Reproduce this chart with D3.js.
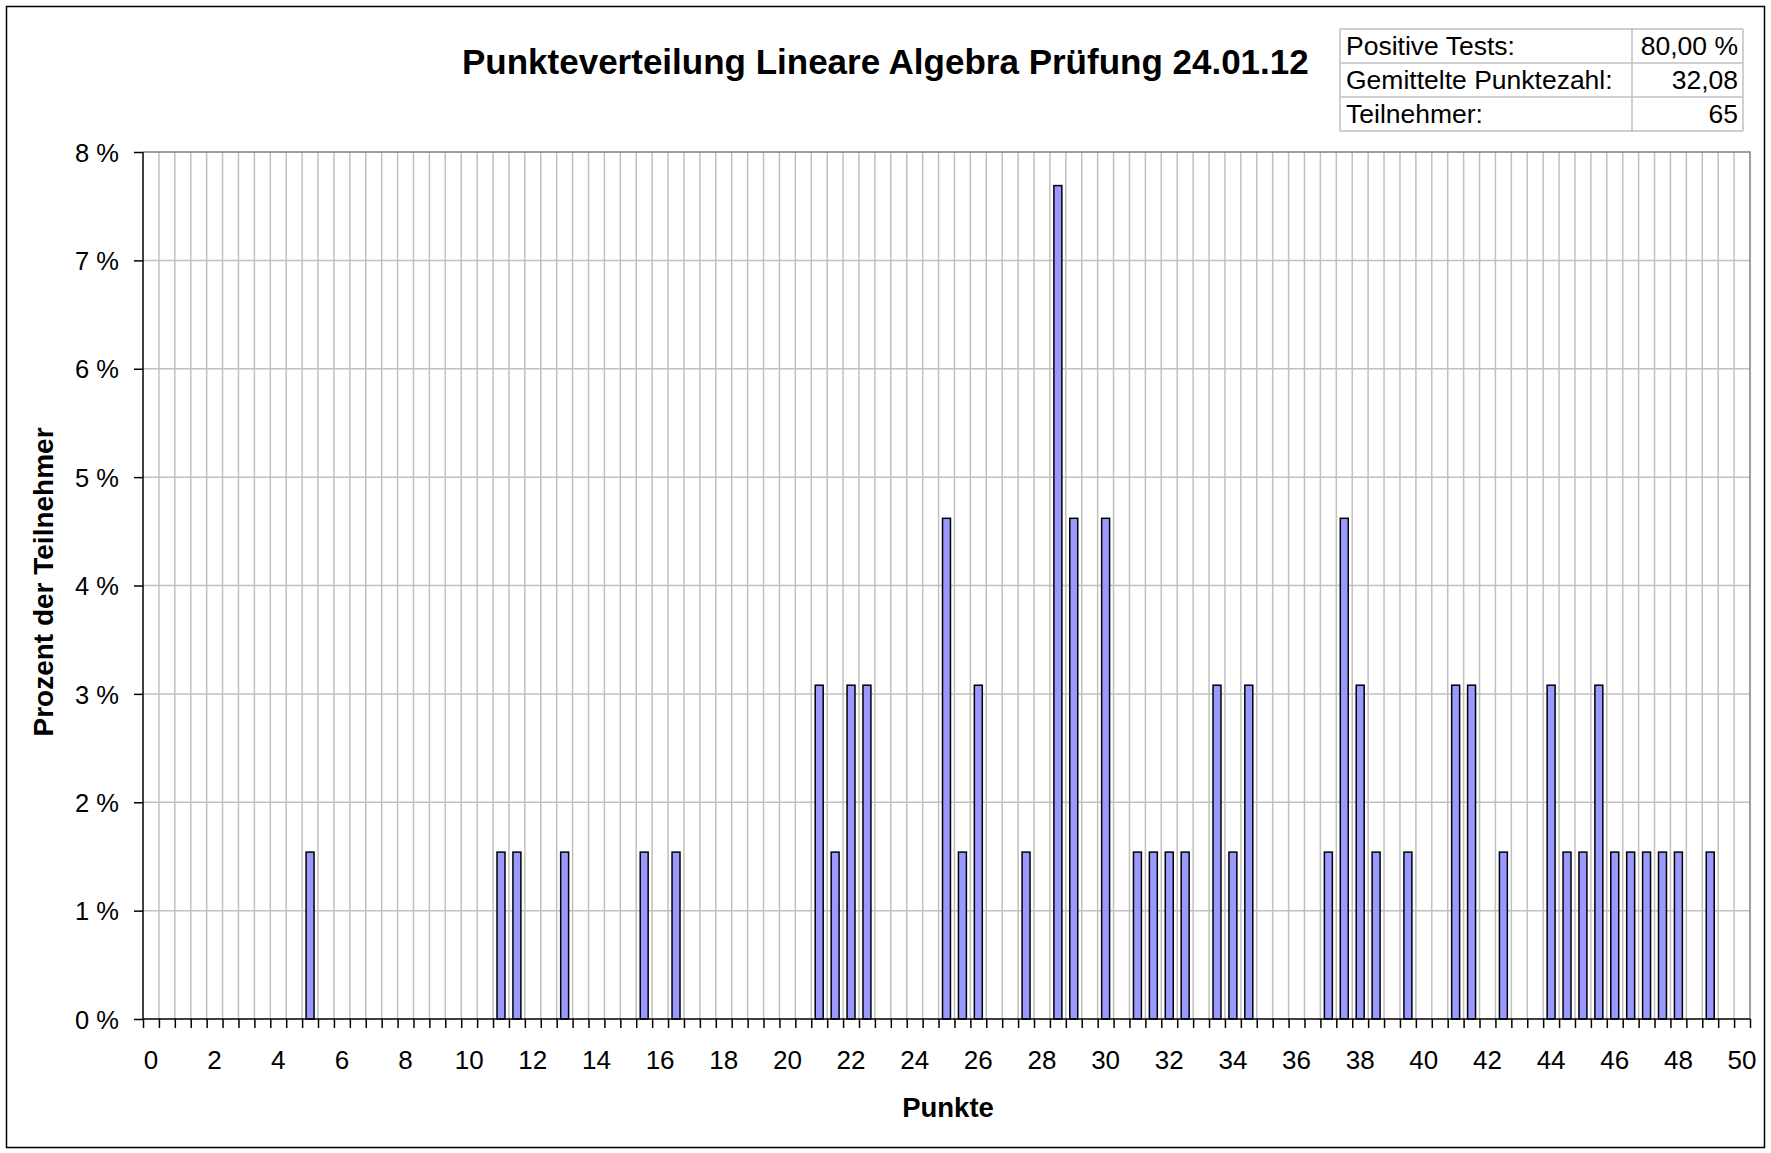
<!DOCTYPE html>
<html>
<head>
<meta charset="utf-8">
<script src="https://cdn.jsdelivr.net/npm/d3@7"></script>
<style>
  body { margin: 0; background: #fff; }
  svg { display: block; }
  text { font-family: "Liberation Sans", Arial, sans-serif; fill: #000; }
</style>
</head>
<body>
<svg id="chart" width="1771" height="1153"></svg>
<script>
// Punkte with at least one participant, and their share in percent
var punkte  = [5, 11, 11.5, 13, 15.5, 16.5,
               21, 21.5, 22, 22.5, 25, 25.5, 26, 27.5, 28.5, 29, 30,
               31, 31.5, 32, 32.5, 33.5, 34, 34.5,
               37, 37.5, 38, 38.5, 39.5, 41, 41.5, 42.5,
               44, 44.5, 45, 45.5, 46, 46.5, 47, 47.5, 48, 49];
var prozent = [1.54, 1.54, 1.54, 1.54, 1.54, 1.54,
               3.08, 1.54, 3.08, 3.08, 4.62, 1.54, 3.08, 1.54, 7.69, 4.62, 4.62,
               1.54, 1.54, 1.54, 1.54, 3.08, 1.54, 3.08,
               1.54, 4.62, 3.08, 1.54, 1.54, 3.08, 3.08, 1.54,
               3.08, 1.54, 1.54, 3.08, 1.54, 1.54, 1.54, 1.54, 1.54, 1.54];

var yTicks = [0, 1, 2, 3, 4, 5, 6, 7, 8];
var xLabels = [0, 2, 4, 6, 8, 10, 12, 14, 16, 18, 20, 22, 24, 26, 28, 30,
               32, 34, 36, 38, 40, 42, 44, 46, 48, 50];

var statLabels = ["Positive Tests:", "Gemittelte Punktezahl:", "Teilnehmer:"];
var statValues = ["80,00 %", "32,08", "65"];

var titel = "Punkteverteilung Lineare Algebra Prüfung 24.01.12";

// categories on the axis: 0, 0.5, ... 50
var kategorien = d3.range(0, 101).map(function(i){ return i / 2; });

var svg = d3.select("#chart");
var m = {left: 143, right: 1750, top: 152, bottom: 1019};

var x = d3.scaleBand().domain(kategorien).range([m.left, m.right]).paddingInner(0).paddingOuter(0);
var xb = d3.scaleLinear().domain([0, kategorien.length]).range([m.left, m.right]); // slot borders
var y = d3.scaleLinear().domain([0, 8]).range([m.bottom, m.top]);

svg.append("rect").attr("width", 1771).attr("height", 1153).attr("fill", "#fff");
svg.append("rect")
    .attr("x", 6.5).attr("y", 6.5).attr("width", 1758).attr("height", 1141)
    .attr("fill", "none").attr("stroke", "#000").attr("stroke-width", 1.5);

// grid
var grid = svg.append("g");
grid.selectAll("line.v").data(d3.range(1, kategorien.length)).enter().append("line")
    .attr("x1", function(d){ return xb(d); }).attr("x2", function(d){ return xb(d); })
    .attr("y1", m.top).attr("y2", m.bottom)
    .attr("stroke", "#c0c0c0").attr("stroke-width", 1.5);
grid.selectAll("line.h").data(yTicks.slice(1, -1)).enter().append("line")
    .attr("x1", m.left).attr("x2", m.right)
    .attr("y1", function(d){ return y(d); }).attr("y2", function(d){ return y(d); })
    .attr("stroke", "#c0c0c0").attr("stroke-width", 1.5);

// plot area border top/right
svg.append("path")
    .attr("d", "M" + m.left + "," + y(8) + "H" + m.right + "V" + m.bottom)
    .attr("fill", "none").attr("stroke", "#808080").attr("stroke-width", 1.5);

// bars
var bw = x.bandwidth() * 0.5;
svg.append("g").selectAll("rect").data(punkte).enter().append("rect")
    .attr("x", function(d){ return x(d) + (x.bandwidth() - bw) / 2; })
    .attr("y", function(d, i){ return y(prozent[i]); })
    .attr("width", bw)
    .attr("height", function(d, i){ return y(0) - y(prozent[i]); })
    .attr("fill", "#9999ff").attr("stroke", "#000").attr("stroke-width", 1.5);

// y axis
var yAxis = svg.append("g").attr("transform", "translate(" + m.left + ",0)")
    .call(d3.axisLeft(y).tickValues(yTicks).tickSize(9).tickPadding(15)
        .tickFormat(function(d){ return d + " %"; }));
yAxis.selectAll("text").style("font-size", "25.5px").attr("dy", "0.36em");
yAxis.selectAll("line, path").attr("stroke", "#000").attr("stroke-width", 1.5);
yAxis.select(".domain").attr("d", "M0," + m.top + "V" + m.bottom);

// x axis: tick marks at slot borders
var xTicks = svg.append("g").attr("transform", "translate(0," + m.bottom + ")")
    .call(d3.axisBottom(xb).tickValues(d3.range(0, kategorien.length + 1)).tickSize(9).tickFormat(""));
xTicks.selectAll("line, path").attr("stroke", "#000").attr("stroke-width", 1.5);
xTicks.select(".domain").attr("d", "M" + m.left + ",0H" + m.right);

// x axis labels, centered in their slot
var xAxis = svg.append("g").attr("transform", "translate(0," + m.bottom + ")")
    .call(d3.axisBottom(x).tickValues(xLabels).tickSize(0).tickPadding(32));
xAxis.select(".domain").remove();
xAxis.selectAll("text").style("font-size", "26px");

// titles
svg.append("text").attr("x", 462).attr("y", 74)
    .style("font-size", "35px").style("font-weight", "bold").text(titel);

svg.append("text").attr("x", 948).attr("y", 1117).attr("text-anchor", "middle")
    .style("font-size", "27.5px").style("font-weight", "bold").text("Punkte");

svg.append("text").attr("transform", "translate(53,582) rotate(-90)").attr("text-anchor", "middle")
    .style("font-size", "28px").style("font-weight", "bold").text("Prozent der Teilnehmer");

// stats table
var tab = {x0: 1340, x1: 1632, x2: 1743, y0: 29, rh: 34};
var tg = svg.append("g");
tg.selectAll("line.row").data(d3.range(0, statLabels.length + 1)).enter().append("line")
    .attr("x1", tab.x0).attr("x2", tab.x2)
    .attr("y1", function(d){ return tab.y0 + d * tab.rh; })
    .attr("y2", function(d){ return tab.y0 + d * tab.rh; })
    .attr("stroke", "#c0c0c0").attr("stroke-width", 1.5);
tg.selectAll("line.col").data([tab.x0, tab.x1, tab.x2]).enter().append("line")
    .attr("x1", function(d){ return d; }).attr("x2", function(d){ return d; })
    .attr("y1", tab.y0).attr("y2", tab.y0 + statLabels.length * tab.rh)
    .attr("stroke", "#c0c0c0").attr("stroke-width", 1.5);
tg.selectAll("text.lab").data(statLabels).enter().append("text")
    .attr("x", tab.x0 + 6)
    .attr("y", function(d, i){ return tab.y0 + (i + 1) * tab.rh - 8; })
    .style("font-size", "26.5px").text(function(d){ return d; });
tg.selectAll("text.val").data(statValues).enter().append("text")
    .attr("x", tab.x2 - 5).attr("text-anchor", "end")
    .attr("y", function(d, i){ return tab.y0 + (i + 1) * tab.rh - 8; })
    .style("font-size", "26.5px").text(function(d){ return d; });
</script>
</body>
</html>
